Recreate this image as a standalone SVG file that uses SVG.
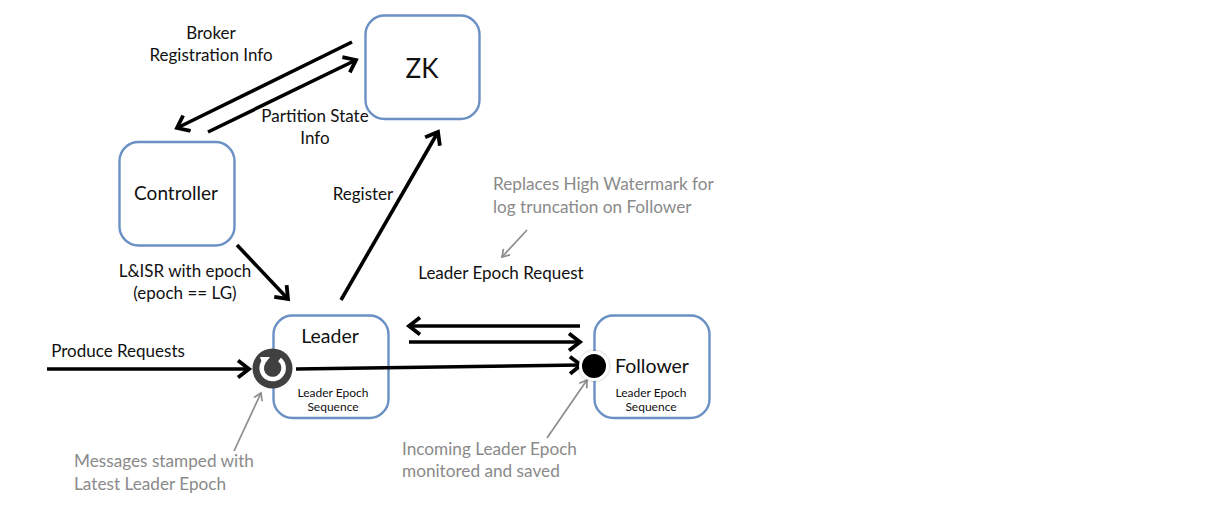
<svg xmlns="http://www.w3.org/2000/svg" width="1224" height="512" viewBox="0 0 1224 512">
<style>
text{font-family:Lato,"Liberation Sans",sans-serif;font-size:17px;fill:#111;text-anchor:middle}
.box{fill:#fff;stroke:#6a90c4;stroke-width:2.4}
.c{fill:none;stroke:#000;stroke-width:3.6}
.g{fill:none;stroke:#8c8c8c;stroke-width:1.7}
.gt{fill:#8a8a8a;text-anchor:start;font-size:17.200px}
.s{font-size:12px}
</style>
<defs>
<marker id="a" markerUnits="userSpaceOnUse" markerWidth="24" markerHeight="24" refX="16" refY="10" orient="auto"><path d="M5 1.5L16 10L5 18.500" fill="none" stroke="#000" stroke-width="3.800"/></marker>
<marker id="b" markerUnits="userSpaceOnUse" markerWidth="16" markerHeight="16" refX="10" refY="6" orient="auto"><path d="M3 1.500L10 6L3 10.500" fill="none" stroke="#8c8c8c" stroke-width="1.700"/></marker>
<filter id="sh" x="-40%" y="-40%" width="180%" height="180%"><feDropShadow dx="0" dy="0" stdDeviation="1.500" flood-color="#000" flood-opacity=".3"/></filter>
</defs>
<g id="zk"><rect class="box" x="365.500" y="15.500" width="114" height="103.500" rx="19"/><text x="422" y="78" style="font-size:26px">ZK</text></g>
<g id="controller"><rect class="box" x="119.500" y="142" width="115" height="103.500" rx="19"/><text x="176" y="200" style="font-size:19px">Controller</text></g>
<g id="leader"><rect class="box" x="273.500" y="315.500" width="115" height="102.500" rx="19"/><text x="330" y="343" style="font-size:19.500px">Leader</text><text class="s" x="333" y="397">Leader Epoch</text><text class="s" x="333" y="411">Sequence</text></g>
<g id="follower"><rect class="box" x="594.500" y="315.500" width="115" height="102.500" rx="19"/><text x="652" y="373" style="font-size:19.500px">Follower</text><text class="s" x="651" y="397">Leader Epoch</text><text class="s" x="651" y="411">Sequence</text></g>
<g id="connectors">
<path class="c" d="M352 42L177 128" marker-end="url(#a)"/>
<path class="c" d="M208 132L356 60" marker-end="url(#a)"/>
<path class="c" d="M237 245L288 299" marker-end="url(#a)"/>
<path class="c" d="M341 300L438 132" marker-end="url(#a)"/>
<path class="c" d="M580 326L409 326" marker-end="url(#a)"/>
<path class="c" d="M409 342L580 342" marker-end="url(#a)"/>
<path class="c" d="M47 369L249 369" marker-end="url(#a)"/>
<path class="c" d="M296 369L581 365" marker-end="url(#a)"/>
<path class="g" d="M527 230L502 257" marker-end="url(#b)"/>
<path class="g" d="M234 451L261 393" marker-end="url(#b)"/>
<path class="g" d="M547 438L587 380" marker-end="url(#b)"/>
</g>
<g id="stamp"><circle cx="272.500" cy="368.500" r="20" fill="#404040"/><path d="M279.500 359.500A11 11 0 1 1 263.500 362" fill="none" stroke="#fff" stroke-width="4.500"/><path d="M260 357L270 357L263 366Z" fill="#fff"/></g>
<g id="monitor"><circle cx="594" cy="366" r="13.500" fill="#000" stroke="#fff" stroke-width="3" filter="url(#sh)"/></g>
<g id="labels">
<text x="211" y="39">Broker</text>
<text x="211" y="61">Registration Info</text>
<text x="315" y="122">Partition State</text>
<text x="315" y="144">Info</text>
<text x="363" y="200">Register</text>
<text x="185" y="277">L&amp;ISR with epoch</text>
<text x="185" y="299">(epoch == LG)</text>
<text x="501" y="279">Leader Epoch Request</text>
<text x="118" y="357">Produce Requests</text>
<text class="gt" x="493" y="190">Replaces High Watermark for</text>
<text class="gt" x="493" y="213">log truncation on Follower</text>
<text class="gt" x="74" y="467">Messages stamped with</text>
<text class="gt" x="74" y="490">Latest Leader Epoch</text>
<text class="gt" x="402" y="455">Incoming Leader Epoch</text>
<text class="gt" x="402" y="477">monitored and saved</text>
</g>
</svg>
